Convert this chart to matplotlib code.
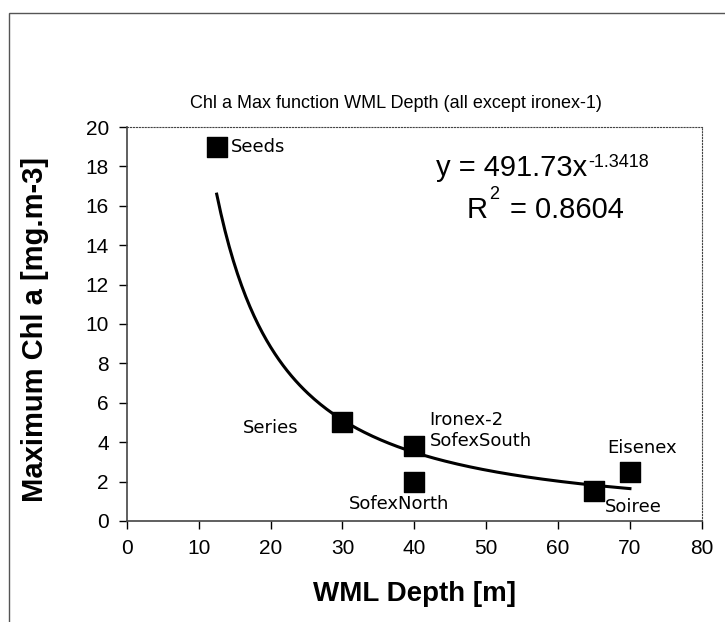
import numpy as np
import matplotlib
matplotlib.use("Agg")
import matplotlib.pyplot as plt
from matplotlib.patches import Rectangle

plt.rcParams["font.family"] = ["Liberation Sans", "DejaVu Sans"]
plt.rcParams["axes.unicode_minus"] = False

# data
sites = ["Seeds", "Series", "Ironex-2\nSofexSouth", "SofexNorth", "Soiree", "Eisenex"]
wml_depth = [12.5, 30, 40, 40, 65, 70]
chl_max = [19, 5, 3.8, 2, 1.5, 2.5]

# power trendline shown on the chart: y = a * x^b
fit_a = 491.73
fit_b = -1.3418
fit_r2 = 0.8604

x_ticks = list(range(0, 81, 10))
y_ticks = list(range(0, 21, 2))

fig = plt.figure(figsize=(7.25, 6.22), dpi=100)
ax = fig.add_axes([0.175, 0.1624, 0.793, 0.6334])

# outer chart frame (cut off at right and bottom)
fig.patches.append(Rectangle((9 / 725, -0.05), 1.2, 1 - 13 / 622 + 0.05,
                             transform=fig.transFigure, fill=False,
                             edgecolor="#555555", linewidth=1.0))

xs = np.linspace(min(wml_depth), max(wml_depth), 200)
ax.plot(xs, fit_a * xs ** fit_b, color="black", linewidth=2.2, zorder=2)
ax.scatter(wml_depth, chl_max, marker="s", s=200, color="black", zorder=3)

# label offsets in points: dx, dy, ha
offsets = {
    "Seeds": (10, 0, "left"),
    "Series": (-32, -4, "right"),
    "Ironex-2\nSofexSouth": (11, 11.5, "left"),
    "SofexNorth": (-11, -16, "center"),
    "Soiree": (8, -11, "left"),
    "Eisenex": (-16.5, 17, "left"),
}
for name, x, y in zip(sites, wml_depth, chl_max):
    dx, dy, ha = offsets[name]
    ax.annotate(name, (x, y), xytext=(dx, dy), textcoords="offset points",
                ha=ha, va="center", linespacing=1.2, fontsize=13,
                fontfamily="DejaVu Sans")

# equation and R^2, superscripts drawn as raised smaller text
eq = ax.text(0.8, 0.895, "y = %.2fx" % fit_a, transform=ax.transAxes,
             ha="right", va="center", fontsize=21)
ax.annotate("%.4f" % fit_b, xy=(1, 1), xycoords=eq, xytext=(1, 0),
            textcoords="offset points", ha="left", va="top", fontsize=13)
r_txt = ax.text(0.591, 0.79, "R", transform=ax.transAxes,
                ha="left", va="center", fontsize=21)
ax.annotate("2", xy=(1, 1), xycoords=r_txt, xytext=(1, 1),
            textcoords="offset points", ha="left", va="center", fontsize=13)
ax.annotate("= %.4f" % fit_r2, xy=(1, 0.5), xycoords=r_txt, xytext=(16, 0),
            textcoords="offset points", ha="left", va="center", fontsize=21)

ax.set_xlim(0, 80)
ax.set_ylim(0, 20)
ax.set_xticks(x_ticks)
ax.set_yticks(y_ticks)
ax.tick_params(labelsize=15, direction="out", length=6, width=1, pad=7)
for side in ["top", "right"]:
    ax.spines[side].set_linestyle(":")
    ax.spines[side].set_color("#444444")
for side in ["left", "bottom"]:
    ax.spines[side].set_color("#444444")
    ax.spines[side].set_linewidth(1.2)

fig.text(396 / 725, 1 - 104 / 622, "Chl a Max function WML Depth (all except ironex-1)",
         ha="center", va="center", fontsize=13)
ax.set_xlabel("WML Depth [m]", fontsize=20, fontweight="bold", va="center")
ax.xaxis.set_label_coords(0.5, -0.185)
ax.set_ylabel("Maximum Chl a [mg.m-3]", fontsize=21, fontweight="bold", va="center")
ax.yaxis.set_label_coords(-0.16, 0.485)

fig.savefig("out.png", dpi=100)
